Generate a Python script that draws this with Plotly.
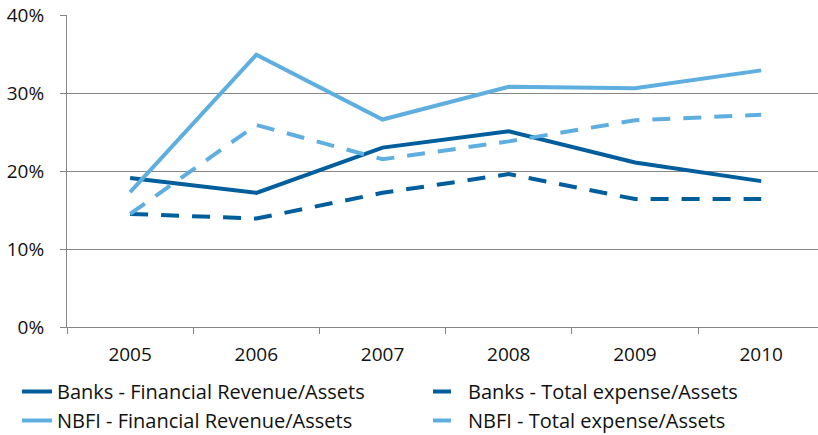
import plotly.graph_objects as go

years = ["2005", "2006", "2007", "2008", "2009", "2010"]
banks_rev = [0.191, 0.172, 0.230, 0.251, 0.211, 0.187]
banks_exp = [0.145, 0.139, 0.172, 0.196, 0.164, 0.164]
nbfi_rev = [0.173, 0.349, 0.266, 0.308, 0.306, 0.329]
nbfi_exp = [0.145, 0.259, 0.215, 0.238, 0.265, 0.272]

dark = "#005E9C"
light = "#5EAEDF"
dash = "18px,13px"

fig = go.Figure()
fig.add_trace(go.Scatter(x=years, y=banks_rev, mode="lines", name="Banks - Financial Revenue/Assets",
                         line=dict(color=dark, width=4)))
fig.add_trace(go.Scatter(x=years, y=banks_exp, mode="lines", name="Banks - Total expense/Assets",
                         line=dict(color=dark, width=4, dash=dash)))
fig.add_trace(go.Scatter(x=years, y=nbfi_rev, mode="lines", name="NBFI - Financial Revenue/Assets",
                         line=dict(color=light, width=4)))
fig.add_trace(go.Scatter(x=years, y=nbfi_exp, mode="lines", name="NBFI - Total expense/Assets",
                         line=dict(color=light, width=4, dash=dash)))

W, H = 818, 435
L, T, B = 67, 15, 108
plot_w = W - L
plot_h = H - T - B

font = "Open Sans, DejaVu Sans, sans-serif"
fig.update_layout(
    width=W, height=H,
    margin=dict(l=L, r=0, t=T, b=B, autoexpand=False),
    paper_bgcolor="white", plot_bgcolor="white",
    font=dict(family=font, size=18, color="#111111"),
    showlegend=True,
    legend=dict(orientation="h", x=(17 - L) / plot_w, xanchor="left",
                y=-(372 - (H - B)) / plot_h, yanchor="top",
                entrywidth=366, entrywidthmode="pixels",
                font=dict(family=font, size=20, color="#111111"),
                bgcolor="rgba(0,0,0,0)", tracegroupgap=0),
    xaxis=dict(type="category", range=[-0.5, 5.45], tickson="boundaries",
               ticks="outside", ticklen=6, tickcolor="#868686",
               showline=True, linecolor="#868686", linewidth=1,
               showgrid=False, tickfont=dict(size=19), ticklabelstandoff=10,
               automargin=False),
    yaxis=dict(range=[0, 0.4], dtick=0.1, tickformat=".0%",
               ticks="outside", ticklen=6, tickcolor="#868686",
               showline=True, linecolor="#868686", linewidth=1,
               showgrid=True, gridcolor="#868686", gridwidth=1,
               zeroline=False, tickfont=dict(size=19), ticklabelstandoff=12,
               automargin=False),
)

fig.write_html("out.html", config={"displayModeBar": False},
               post_script="document.body.style.margin='0';")
